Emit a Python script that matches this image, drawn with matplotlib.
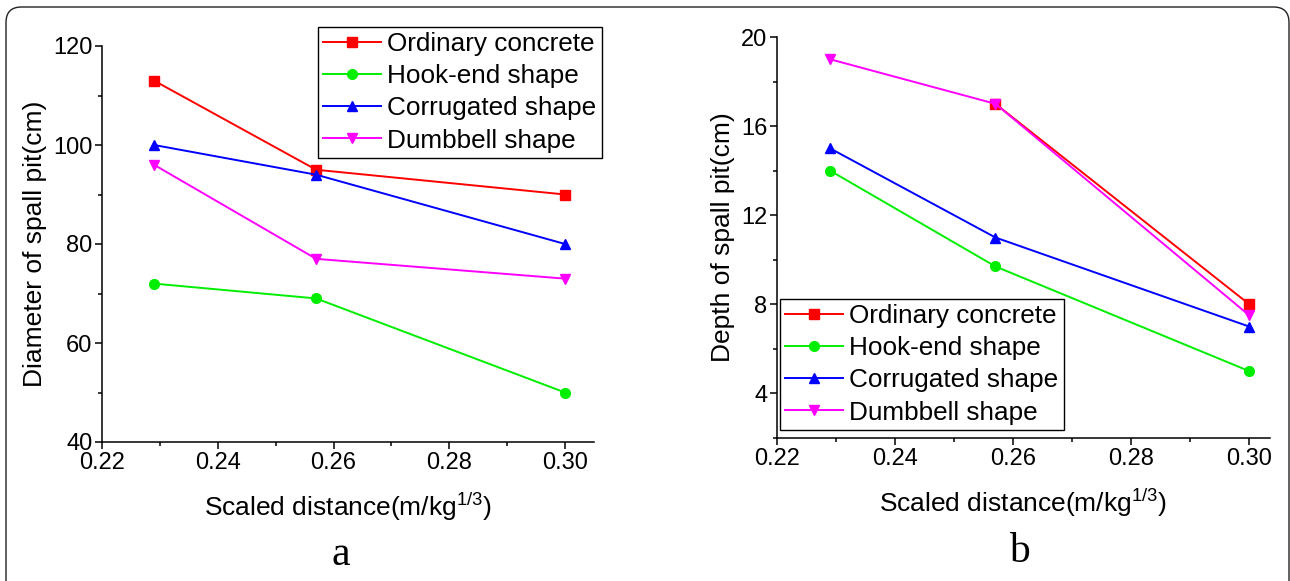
import matplotlib
matplotlib.use("Agg")
import matplotlib.pyplot as plt
from matplotlib.patches import FancyBboxPatch
from matplotlib.ticker import MultipleLocator, FormatStrFormatter

plt.rcParams["font.family"] = ["Liberation Sans", "DejaVu Sans"]
plt.rcParams["mathtext.fontset"] = "custom"
plt.rcParams["mathtext.rm"] = "Liberation Sans"

# scaled distance of the three blasts
scaled_distance = [0.229, 0.257, 0.300]

series_names = ["Ordinary concrete", "Hook-end shape", "Corrugated shape", "Dumbbell shape"]

# spall pit diameter (cm)
diameter_ordinary = [113, 95, 90]
diameter_hook = [72, 69, 50]
diameter_corrugated = [100, 94, 80]
diameter_dumbbell = [96, 77, 73]

# spall pit depth (cm); first ordinary point not recorded
depth_ordinary = [float("nan"), 17, 8]
depth_hook = [14, 9.7, 5]
depth_corrugated = [15, 11, 7]
depth_dumbbell = [19, 17, 7.5]

colors = ["#ff0000", "#00ee00", "#0000ff", "#ff00ff"]
markers = ["s", "o", "^", "v"]

W, H = 1290, 581
fig = plt.figure(figsize=(W / 100, H / 100), dpi=100)


def px_axes(x0, x1, y0, y1):
    return fig.add_axes([x0 / W, 1 - y1 / H, (x1 - x0) / W, (y1 - y0) / H])


def style(ax):
    for side in ("top", "right"):
        ax.spines[side].set_visible(False)
    for side in ("left", "bottom"):
        ax.spines[side].set_linewidth(1.1)
    ax.tick_params(which="major", direction="out", length=5, width=1.1, labelsize=17, pad=2)
    ax.tick_params(which="minor", direction="out", length=3, width=1.1)
    ax.xaxis.set_major_locator(MultipleLocator(0.02))
    ax.xaxis.set_minor_locator(MultipleLocator(0.01))
    ax.xaxis.set_major_formatter(FormatStrFormatter("%.2f"))
    ax.set_xlabel(r"Scaled distance(m/kg$^{\mathrm{1/3}}$)", fontsize=19, labelpad=12)


def draw(ax, data):
    for vals, name, c, m in zip(data, series_names, colors, markers):
        ax.plot(scaled_distance, vals, color=c, marker=m, markersize=7,
                linewidth=1.4, label=name, clip_on=False)


legend_kw = dict(fontsize=18.8, frameon=True, fancybox=False, framealpha=1,
                 edgecolor="black", handlelength=2.2, handletextpad=0.25,
                 labelspacing=0.31, borderpad=0.2, borderaxespad=0)

# a: diameter
ax1 = px_axes(102, 594, 46, 442)
draw(ax1, [diameter_ordinary, diameter_hook, diameter_corrugated, diameter_dumbbell])
style(ax1)
ax1.set_xlim(0.22, 0.305)
ax1.set_ylim(40, 120)
ax1.yaxis.set_major_locator(MultipleLocator(20))
ax1.yaxis.set_minor_locator(MultipleLocator(10))
ax1.set_ylabel("Diameter of spall pit(cm)", fontsize=19, labelpad=4)
leg1 = ax1.legend(loc="upper left", bbox_to_anchor=(318 / W, 1 - 27 / H),
                  bbox_transform=fig.transFigure, **legend_kw)
leg1.get_frame().set_linewidth(1.0)

# b: depth
ax2 = px_axes(777, 1270, 37, 438)
draw(ax2, [depth_ordinary, depth_hook, depth_corrugated, depth_dumbbell])
style(ax2)
ax2.set_xlim(0.22, 0.3035)
ax2.set_ylim(2, 20)
ax2.yaxis.set_major_locator(MultipleLocator(4))
ax2.yaxis.set_minor_locator(MultipleLocator(2))
ax2.set_ylabel("Depth of spall pit(cm)", fontsize=19, labelpad=4)
leg2 = ax2.legend(loc="upper left", bbox_to_anchor=(780 / W, 1 - 299 / H),
                  bbox_transform=fig.transFigure, **legend_kw)
leg2.get_frame().set_linewidth(1.0)

fig.text(341 / W, 1 - 555 / H, "a", family="Liberation Serif", fontsize=30,
         ha="center", va="center")
fig.text(1019 / W, 1 - 552 / H, "b", family="Liberation Serif", fontsize=30,
         ha="center", va="center")

# rounded outline around the whole figure
frame = FancyBboxPatch((6 / W, -0.1), (1289 - 6) / W, 1.1 - 7 / H,
                       boxstyle="round,pad=0,rounding_size=0.012",
                       mutation_aspect=W / H, transform=fig.transFigure,
                       facecolor="none", edgecolor="#222222", linewidth=1.0,
                       clip_on=False)
fig.add_artist(frame)

fig.savefig("out.png", dpi=100)
